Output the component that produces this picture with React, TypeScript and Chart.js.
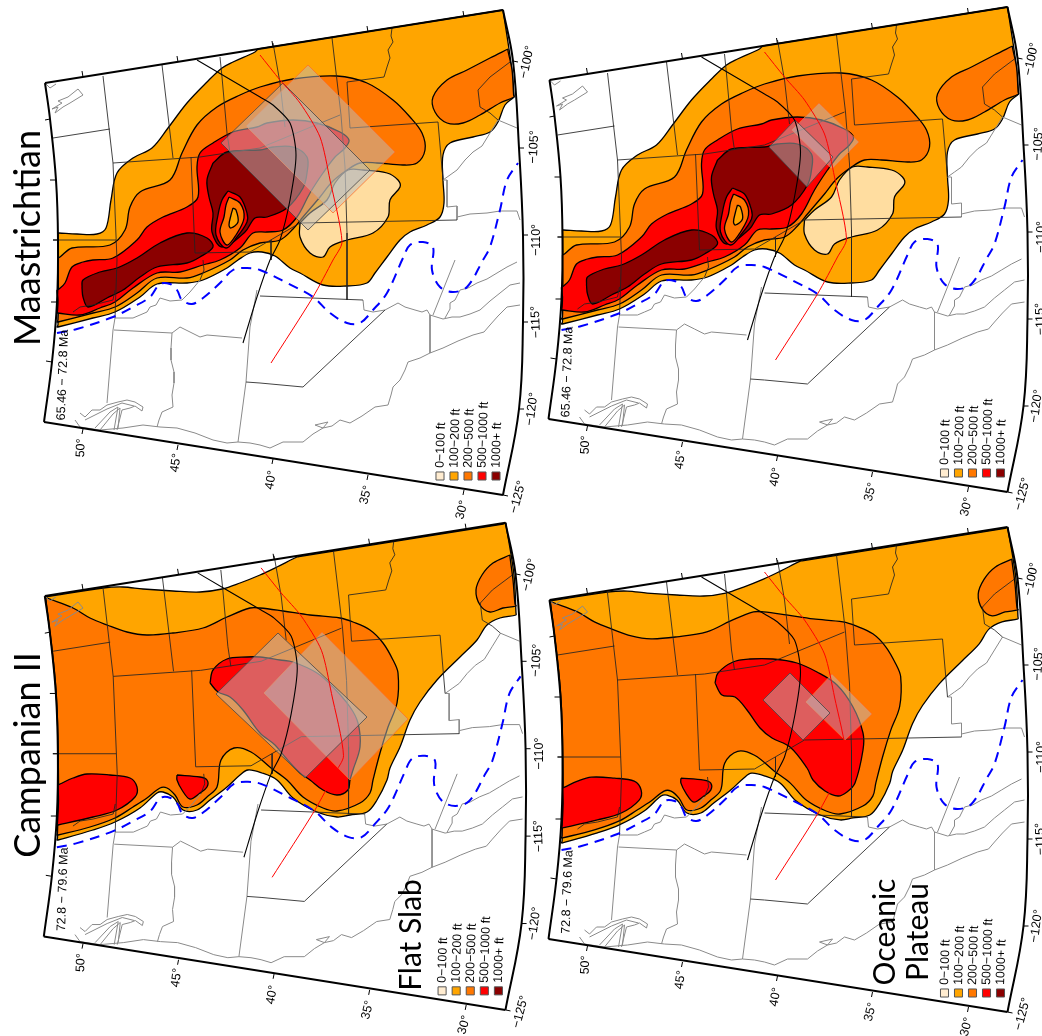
import React, { useEffect, useRef } from "react";
import { Chart, registerables } from "chart.js";
Chart.register(...registerables);

type Pt = [number, number];

const W = 1042, H = 1036;
const legendLabels = ["0−100 ft", "100−200 ft", "200−500 ft", "500−1000 ft", "1000+ ft"];
const legendColors = ["#FFECD0", "#FFA500", "#FF7700", "#FF0000", "#8B0000"];
const LIGHT = "#FFDDA0", AMBER = "#FFA500", ORANGE = "#FF7700", RED = "#FF0000", DARK = "#8B0000";

const latLabels = ["50°", "45°", "40°", "35°", "30°"];
const latLabelPos: [number, number, number][] = [[81, 448, -87], [176, 463, -82], [271, 480, -80], [366, 495, -76], [462, 510, -75]];
const lonLabels = ["−100°", "−105°", "−110°", "−115°", "−120°", "−125°"];
const lonLabelPos: [number, number, number][] = [[527, 62, -78], [534, 147, -87], [537, 240, -90], [536, 322, -92], [532, 409, -82], [518, 497, -75]];

// frame edges
const frameTop: Pt[] = [[45, 83], [503, 10]];
const frameRight: Pt[] = [[503, 10], [513, 61], [519, 148], [523, 235], [523, 322], [519, 409], [503, 495]];
const frameBottom: Pt[] = [[503, 495], [44, 422]];
const frameLeft: Pt[] = [[44, 422], [52, 362], [57, 302], [58, 240], [56, 180], [50, 119], [45, 83]];
const ticks: Pt[][] = [
  [[83, 77], [82, 71]], [[178, 62], [177, 56]], [[273, 47], [272, 41]], [[368, 32], [367, 26]], [[464, 17], [463, 11]],
  [[50, 119], [45, 120]], [[56, 180], [50, 180]], [[58, 240], [53, 240]], [[57, 302], [51, 302]], [[52, 362], [46, 361]],
  [[513, 61], [518, 62]], [[519, 148], [524, 148]], [[523, 235], [528, 235]], [[523, 322], [528, 322]], [[519, 409], [524, 409]], [[503, 495], [508, 496]],
  [[83, 429], [82, 434]], [[178, 445], [177, 450]], [[273, 459], [272, 464]], [[368, 475], [367, 480]], [[464, 490], [463, 495]],
];

// base map
const stateLines: Pt[][] = [
  [[103, 76], [113, 163], [117, 260], [115, 318]],
  [[53, 138], [110, 129]],
  [[162, 65], [173, 158]],
  [[113, 163], [200, 157], [260, 148], [340, 115]],
  [[191, 157], [195, 253], [250, 252], [300, 223], [457, 220]],
  [[220, 57], [222, 77], [227, 133], [230, 153]],
  [[273, 43], [280, 83], [285, 127]],
  [[332, 38], [341, 115], [345, 167], [347, 233], [347, 300]],
  [[392, 28], [391, 36], [393, 42], [388, 50], [390, 58], [387, 67], [384, 77], [347, 82], [350, 128], [438, 122], [443, 180]],
  [[53, 240], [116, 240]],
  [[203, 260], [204, 270], [200, 280]],
  [[271, 240], [271, 260]],
  [[510, 62], [490, 77], [478, 90], [480, 107], [490, 113], [498, 120]],
  [[73, 312], [80, 307], [93, 305], [113, 300], [115, 290]],
  [[260, 296], [363, 300]],
];
const darkLines: Pt[][] = [
  [[260, 383], [303, 387], [385, 310]],
  [[246, 382], [260, 383]],
];
const grayLines: Pt[][] = [
  [[115, 318], [113, 330], [107, 403]],
  [[115, 318], [133, 318], [140, 315], [147, 312], [150, 307], [156, 305], [160, 298], [170, 301], [182, 300], [190, 292], [200, 280]],
  [[114, 330], [172, 333], [180, 327], [190, 332], [200, 337], [207, 335], [242, 338]],
  [[172, 333], [171, 348], [171, 360], [174, 372], [174, 383], [172, 395], [173, 407], [162, 412], [159, 420], [157, 427]],
  [[257, 290], [250, 327], [246, 382], [238, 442]],
  [[75, 420], [80, 427], [100, 430], [123, 428], [143, 425], [160, 427], [177, 428], [195, 433], [213, 440], [227, 443], [238, 442], [250, 443], [260, 445], [270, 448], [283, 442], [303, 442], [313, 434], [323, 428], [332, 426], [340, 420], [350, 423], [362, 416], [375, 407], [388, 405], [391, 395], [393, 387], [400, 380], [405, 370], [408, 362], [420, 358], [430, 353], [443, 348], [458, 341], [473, 335], [484, 332], [490, 325], [498, 316], [507, 307], [520, 305]],
  [[363, 300], [364, 310], [373, 312], [385, 310], [398, 303], [405, 307], [415, 310], [422, 312], [427, 310], [430, 315], [443, 319], [452, 317], [460, 317], [470, 314], [480, 310], [490, 301], [500, 293], [510, 285], [520, 283]],
  [[445, 318], [450, 309], [450, 303], [455, 300], [460, 290], [468, 288], [477, 283], [487, 279], [497, 273], [507, 267], [517, 262]],
  [[430, 315], [430, 353]],
  [[433, 315], [455, 260]],
  [[80, 413], [85, 417], [92, 410], [100, 410], [107, 405], [118, 402], [127, 400], [135, 402], [143, 407], [142, 411], [135, 406], [130, 408], [122, 410], [117, 430]],
  [[85, 420], [107, 409], [122, 403], [134, 406]],
  [[95, 428], [110, 412], [118, 407], [114, 430]],
  [[100, 430], [113, 414], [120, 408], [118, 428]],
  [[55, 113], [58, 107], [52, 109], [62, 103], [58, 101], [68, 97], [78, 89], [83, 95], [70, 103], [63, 107], [55, 113]],
  [[46, 84], [50, 88], [56, 84]],
  [[315, 425], [328, 422], [323, 428], [315, 425]],
  [[443, 180], [447, 180], [447, 207], [457, 206], [457, 220]],
  [[443, 180], [450, 175], [457, 170], [465, 160], [473, 152], [482, 146], [490, 133], [498, 120], [517, 128]],
  [[457, 217], [470, 214], [487, 213], [500, 211], [517, 211], [520, 220]],
];
const thrustFront: Pt[] = [[197, 60], [260, 97], [273, 105], [290, 123], [296, 155], [290, 200], [280, 240], [270, 260], [257, 297], [243, 343]];
const redTrace: Pt[] = [[260, 55], [280, 80], [300, 103], [320, 137], [330, 180], [342, 242], [333, 260], [313, 297], [271, 363]];
const seaway: Pt[] = [[57, 333], [77, 329], [113, 317], [133, 307], [150, 297], [160, 284], [170, 284], [177, 290], [182, 300], [192, 304], [203, 298], [220, 283], [233, 270], [247, 268], [260, 270], [287, 283], [313, 297], [330, 313], [347, 323], [360, 323], [373, 310], [387, 293], [403, 258], [410, 245], [423, 242], [433, 247], [432, 270], [440, 287], [453, 292], [467, 287], [483, 260], [490, 247], [500, 210], [507, 180], [518, 163]];

// Maastrichtian isopachs
const maAmber: Pt[] = [[58, 233], [59, 233], [77, 234], [97, 234], [106, 228], [111, 200], [117, 173], [133, 158], [152, 148], [168, 128], [187, 103], [207, 82], [222, 68], [233, 62], [255, 52], [258, 49], [260, 48.6], [500, 10.5], [503, 10], [503.3, 12], [512, 70], [514, 95], [514, 97], [505, 105], [498, 122], [490, 132], [473, 137], [450, 143], [443, 155], [443, 180], [444, 203], [440, 217], [427, 225], [410, 232], [400, 240], [387, 257], [375, 273], [367, 283], [347, 286], [323, 285], [300, 273], [290, 268], [275, 256], [262, 252], [250, 253], [238, 260], [227, 268], [203, 280], [187, 283], [157, 284], [140, 297], [115, 312], [93, 318], [58, 327], [57, 327], [58, 325], [58.4, 280], [58, 235], [58, 233]];
const maOrange: Pt[] = [[58, 258], [60, 257], [72, 248], [110, 245], [125, 230], [130, 207], [140, 192], [170, 180], [182, 153], [197, 125], [217, 107], [240, 95], [260, 87], [293, 79], [337, 76], [367, 83], [393, 100], [410, 117], [422, 133], [425, 150], [417, 163], [403, 165], [377, 163], [360, 163], [347, 170], [332, 182], [320, 197], [303, 217], [293, 229], [280, 240], [260, 243], [243, 250], [230, 260], [203, 273], [187, 278], [157, 278], [137, 293], [115, 307], [93, 313], [58, 322], [57, 322], [58, 320], [58.4, 290], [58, 260], [58, 258]];
const maRed: Pt[] = [[57, 290], [59, 289], [65, 283], [72, 267], [83, 262], [93, 260], [113, 258], [137, 240], [147, 227], [163, 217], [187, 207], [198, 197], [197, 167], [200, 153], [213, 143], [233, 132], [257, 127], [267, 123], [293, 120], [317, 123], [340, 132], [349, 140], [345, 148], [335, 157], [323, 173], [310, 193], [297, 217], [283, 230], [267, 232], [253, 233], [240, 248], [220, 260], [203, 265], [180, 272], [157, 273], [133, 288], [115, 302], [100, 308], [80, 315], [58, 313], [57, 313], [57.5, 311], [58, 300], [57, 292], [57, 290]];
const maDark1: Pt[] = [[213, 163], [227, 152], [260, 150], [273, 147], [293, 147], [307, 157], [307, 173], [303, 188], [287, 208], [267, 217], [255, 218], [245, 232], [222, 247], [212, 232], [213, 213], [209, 197], [207, 180]];
const maDark2: Pt[] = [[82, 288], [83, 280], [100, 272], [117, 268], [137, 258], [160, 243], [187, 233], [207, 238], [213, 247], [200, 257], [187, 263], [157, 267], [140, 277], [123, 290], [107, 298], [88, 307], [83, 297]];
const maRing: Pt[] = [[228, 191], [240, 197], [247, 213], [247, 222], [237, 237], [226, 248], [216, 235], [218, 215], [222, 200]];
const maRingOrange: Pt[] = [[229, 197], [240, 203], [244, 218], [236, 235], [227, 245], [220, 232], [224, 217], [226, 205]];
const maRingAmber: Pt[] = [[233, 208], [236, 210], [238, 222], [231, 228], [229, 225], [231, 215]];
const maLight: Pt[] = [[300, 223], [310, 213], [327, 200], [335, 183], [348, 170], [363, 170], [387, 173], [398, 180], [400, 187], [390, 200], [388, 217], [373, 233], [347, 240], [330, 247], [323, 257], [310, 253], [300, 237]];
const maEast: Pt[] = [[508, 49], [490, 58], [467, 70], [447, 80], [433, 97], [435, 112], [447, 123], [463, 123], [480, 115], [500, 103], [514, 97], [513.6, 95], [512, 70], [508, 51], [508, 49]];

// Campanian isopachs
const caAmber: Pt[] = [[45, 597], [47, 596.7], [103, 588], [123, 587], [143, 589], [173, 591], [200, 592], [222, 589], [240, 583], [260, 575], [277, 567], [297, 557], [299, 556.7], [503, 524], [505.7, 523], [506, 525], [514, 575], [516, 613], [516, 615], [500, 618], [487, 625], [477, 640], [460, 657], [437, 680], [420, 702], [410, 720], [400, 747], [390, 768], [387, 780], [377, 800], [367, 812], [350, 815], [337, 817], [317, 812], [293, 798], [277, 780], [262, 773], [248, 770], [240, 775], [227, 787], [210, 800], [197, 810], [183, 810], [173, 797], [163, 792], [157, 793], [140, 808], [115, 822], [93, 830], [58, 840], [57, 840], [57.5, 838], [58.5, 780], [56, 690], [46, 600], [45, 597]];
const caOrange: Pt[] = [[45, 597], [47, 598], [73, 608], [90, 618], [107, 625], [127, 632], [147, 635], [173, 633], [203, 628], [227, 617], [250, 608], [260, 608], [283, 611], [310, 615], [340, 618], [353, 622], [370, 630], [383, 643], [393, 660], [398, 673], [397, 703], [388, 727], [380, 753], [373, 780], [370, 793], [360, 803], [337, 811], [323, 808], [303, 797], [287, 780], [271, 768], [251, 752], [234, 748], [221, 760], [217, 787], [207, 797], [197, 805], [183, 807], [175, 795], [167, 788], [160, 788], [147, 798], [133, 807], [115, 818], [90, 827], [58, 835], [57, 835], [57.5, 833], [58.5, 780], [56, 690], [46, 600], [45, 597]];
const caEast: Pt[] = [[510, 555], [493, 563], [482, 575], [476, 590], [480, 605], [490, 612], [503, 608], [516, 606], [515, 604], [513, 580], [510, 557], [510, 555]];
const caRedWest: Pt[] = [[58, 785], [60, 784], [73, 778], [87, 774], [110, 775], [130, 778], [137, 787], [135, 797], [117, 810], [93, 817], [58, 825], [57, 825], [57.5, 823], [58.5, 800], [58, 787], [58, 785]];
const caRedSmall: Pt[] = [[177, 775], [200, 777], [207, 780], [207, 787], [200, 793], [190, 799], [182, 790], [177, 780]];
const flatSlabRed: Pt[] = [[210, 683], [213, 670], [227, 659], [247, 657], [260, 657], [280, 660], [293, 662], [317, 673], [333, 687], [350, 707], [358, 723], [360, 747], [353, 770], [350, 780], [348, 790], [337, 795], [323, 790], [310, 780], [300, 773], [285, 757], [275, 745], [260, 733], [243, 710], [230, 697], [218, 692]];
const plateauRed: Pt[] = [[715, 683], [718, 673], [733, 662], [750, 659], [773, 659], [797, 663], [817, 672], [837, 685], [853, 707], [863, 733], [863, 750], [855, 783], [847, 792], [838, 796], [825, 791], [813, 780], [807, 768], [790, 747], [772, 738], [760, 728], [747, 710], [735, 697], [722, 695]];

// overlay rectangles
const boxes: { rect: Pt[]; kind: "o" | "g" }[] = [
  { rect: [[308, 65], [395, 152], [333, 213], [246, 126]], kind: "o" },
  { rect: [[283, 83], [370, 170], [308, 230], [221, 143]], kind: "g" },
  { rect: [[819, 103], [859, 142], [832, 169], [792, 130]], kind: "o" },
  { rect: [[795, 120], [833, 157], [807, 187], [769, 147]], kind: "g" },
  { rect: [[322, 632], [408, 719], [350, 780], [264, 693]], kind: "o" },
  { rect: [[278, 633], [367, 717], [305, 778], [216, 694]], kind: "g" },
  { rect: [[832, 674], [872, 714], [845, 740], [806, 702]], kind: "o" },
  { rect: [[790, 673], [830, 713], [803, 740], [763, 700]], kind: "g" },
];

type Tr = (p: Pt) => Pt;
const same: Tr = (p) => p;
const right: Tr = (p) => [p[0] + 504.5, p[1] - 3];
const lower: Tr = (p) => [44.5 + (p[0] - 44.7) * 1.0058, 596 + (p[1] - 83) * 1.0047];
const lowerRight: Tr = (p) => [p[0] + 504.5, p[1] + 517];
const campanianRight: Tr = (p) => lowerRight([44.7 + (p[0] - 44.5) / 1.0058, 83 + (p[1] - 596) / 1.0047]);

const panels: { tr: Tr; time: string }[] = [
  { tr: same, time: "65.46 − 72.8 Ma" },
  { tr: right, time: "65.46 − 72.8 Ma" },
  { tr: lower, time: "72.8 − 79.6 Ma" },
  { tr: lowerRight, time: "72.8 − 79.6 Ma" },
];

const titles: { text: string; x: number; y: number; size: number }[] = [
  { text: "Maastrichtian", x: 39.5, y: 238, size: 36 },
  { text: "Campanian II", x: 39.5, y: 755, size: 36 },
  { text: "Flat Slab", x: 421, y: 935, size: 30 },
  { text: "Oceanic", x: 895, y: 932, size: 30 },
  { text: "Plateau", x: 928, y: 932, size: 30 },
];

function pts(list: Pt[], tr: Tr) {
  return list.map((p) => { const q = tr(p); return { x: q[0], y: q[1] }; });
}
function multi(lines: Pt[][], tr: Tr) {
  const out: { x: number; y: number }[] = [];
  lines.forEach((l) => { out.push(...pts(l, tr)); out.push({ x: NaN, y: NaN }); });
  return out;
}
function area(list: Pt[], color: string, tr: Tr, border = "#000", bw = 1.3, tension = 0.35) {
  return { data: pts([...list, list[0]], tr), showLine: true, fill: "shape", backgroundColor: color, borderColor: border, borderWidth: bw, tension, pointRadius: 0 };
}
function stroke(data: any[], color: string, bw: number, tension = 0, dash?: number[]) {
  return { data, showLine: true, fill: false, borderColor: color, borderWidth: bw, tension, pointRadius: 0, borderDash: dash || [], spanGaps: false };
}

function buildDatasets() {
  const ds: any[] = [];
  panels.forEach((p, i) => {
    const tr = p.tr;
    if (i < 2) {
      ds.push(area(maAmber, AMBER, tr), area(maOrange, ORANGE, tr), area(maEast, ORANGE, tr), area(maLight, LIGHT, tr), area(maRed, RED, tr), area(maDark1, DARK, tr), area(maDark2, DARK, tr), area(maRing, RED, tr), area(maRingOrange, ORANGE, tr), area(maRingAmber, AMBER, tr));
    } else {
      const cr = i === 2 ? same : campanianRight;
      ds.push(area(caAmber, AMBER, cr), area(caOrange, ORANGE, cr), area(caEast, ORANGE, cr), area(caRedWest, RED, cr), area(caRedSmall, RED, cr));
      if (i === 2) ds.push(area(flatSlabRed, RED, same));
      else ds.push(area(plateauRed, RED, same));
    }
    ds.push(stroke(multi(grayLines, tr), "#8a8a8a", 1));
    ds.push(stroke(multi(stateLines, tr), "rgba(35,35,35,0.85)", 1));
    ds.push(stroke(multi(darkLines, tr), "#444", 1));
    const bs = boxes.slice(i * 2, i * 2 + 2);
    bs.forEach((b) => ds.push(area(b.rect, "rgba(188,188,188,0.5)", same, b.kind === "o" ? "rgba(255,110,40,0.75)" : "rgba(70,70,70,0.8)", 1, 0)));
    ds.push(stroke(pts(thrustFront, tr), "#000", 1.1, 0.25));
    ds.push(stroke(pts(redTrace, tr), "#FF0000", 1, 0.25));
    ds.push(stroke(pts(seaway, tr), "#0000FF", 2, 0.35, [10, 7]));
    ds.push(stroke(pts(frameTop, tr), "#000", 2));
    ds.push(stroke(pts(frameRight, tr), "#000", 2, 0.4));
    ds.push(stroke(pts(frameBottom, tr), "#000", 2));
    ds.push(stroke(pts(frameLeft, tr), "#000", 2, 0.4));
    ds.push(stroke(multi(ticks, tr), "#000", 1));
    legendColors.forEach((c, k) => {
      const q = tr([440 + 14 * k, 476]);
      ds.push({ data: [{ x: q[0], y: q[1] }], showLine: false, pointStyle: "rect", pointRadius: 5.7, pointBackgroundColor: c, pointBorderColor: "#555", pointBorderWidth: 1 });
    });
  });
  ds.forEach((d, i) => { d.order = ds.length - i; });
  return ds;
}

const textPlugin = {
  id: "mapText",
  afterDraw(chart: any) {
    const ctx = chart.ctx;
    const put = (t: string, x: number, y: number, a: number, font: string, align: CanvasTextAlign = "center", base: CanvasTextBaseline = "middle") => {
      ctx.save();
      ctx.translate(x, y);
      ctx.rotate((a * Math.PI) / 180);
      ctx.font = font;
      ctx.fillStyle = "#000";
      ctx.textAlign = align;
      ctx.textBaseline = base;
      ctx.fillText(t, 0, 0);
      ctx.restore();
    };
    const small = '12.5px "Liberation Sans"';
    panels.forEach((p) => {
      latLabels.forEach((t, i) => { const [x, y, a] = latLabelPos[i]; const q = p.tr([x, y]); put(t, q[0], q[1], a, small); });
      lonLabels.forEach((t, i) => { const [x, y, a] = lonLabelPos[i]; const q = p.tr([x, y]); put(t, q[0], q[1], a, small); });
      legendLabels.forEach((t, k) => { const q = p.tr([440 + 14 * k, 468]); put(t, q[0], q[1], -88, small, "left"); });
      const q = p.tr([63, 375]);
      put(p.time, q[0], q[1], -88, small);
    });
    titles.forEach((t) => put(t.text, t.x, t.y, -90, `${t.size}px Lato`, "center", "alphabetic"));
  },
};

export default function App() {
  const ref = useRef<HTMLCanvasElement>(null);
  useEffect(() => {
    const chart = new Chart(ref.current as HTMLCanvasElement, {
      type: "scatter",
      data: { datasets: buildDatasets() },
      options: {
        animation: false,
        responsive: false,
        layout: { padding: 0, autoPadding: false },
        elements: { line: { capBezierPoints: false } },
        scales: {
          x: { type: "linear", min: 0, max: W, display: false },
          y: { type: "linear", min: 0, max: H, reverse: true, display: false },
        },
        plugins: { legend: { display: false }, tooltip: { enabled: false }, title: { display: false } },
      } as any,
      plugins: [textPlugin],
    } as any);
    return () => chart.destroy();
  }, []);
  return <canvas ref={ref} width={W} height={H} style={{ position: "absolute", left: 0, top: 0, display: "block" }} />;
}
